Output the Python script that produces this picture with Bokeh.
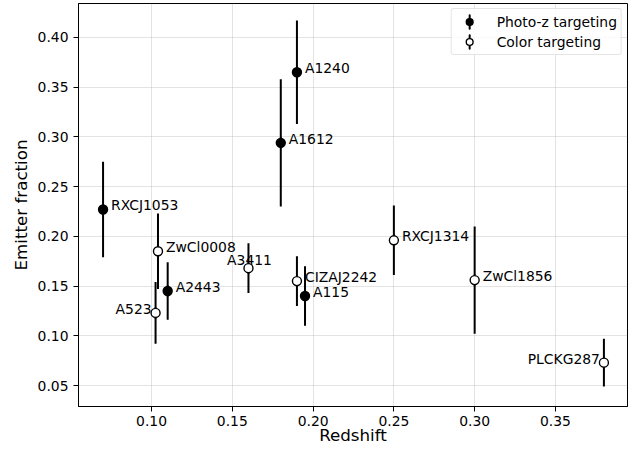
import numpy as np
from bokeh.plotting import figure
from bokeh.models import ColumnDataSource, Legend, LegendItem, Range1d
from bokeh.core.properties import value
from bokeh.embed import file_html
from bokeh.resources import INLINE

# ---- data ----
photo_names = ["RXCJ1053", "A1240", "A1612", "A2443", "A115"]
photo_z = [0.07, 0.19, 0.18, 0.11, 0.195]
photo_frac = [0.227, 0.365, 0.294, 0.145, 0.140]
photo_err = [0.048, 0.052, 0.064, 0.029, 0.030]

color_names = ["ZwCl0008", "A523", "A3411", "CIZAJ2242", "RXCJ1314", "ZwCl1856", "PLCKG287"]
color_z = [0.104, 0.1025, 0.16, 0.19, 0.25, 0.30, 0.38]
color_frac = [0.185, 0.123, 0.168, 0.155, 0.196, 0.156, 0.073]
color_err = [0.038, 0.031, 0.025, 0.025, 0.035, 0.054, 0.024]

x_ticks = [0.10, 0.15, 0.20, 0.25, 0.30, 0.35]
y_ticks = [0.05, 0.10, 0.15, 0.20, 0.25, 0.30, 0.35, 0.40]

# label placement (style): names drawn to the left, names drawn above
left_labels = ["A523", "PLCKG287"]
above_labels = ["A3411"]

FONT = "DejaVu Sans"

p = figure(width=629, height=447, output_backend="svg", toolbar_location=None,
           x_range=Range1d(0.0548, 0.3946), y_range=Range1d(0.0289, 0.4341),
           min_border_left=78, min_border_right=2, min_border_top=3, min_border_bottom=40)

p.background_fill_color = "white"
p.border_fill_color = "white"
p.outline_line_color = "black"
p.outline_line_width = 1

for ax in (p.xaxis, p.yaxis):
    ax.axis_line_color = "black"
    ax.axis_line_width = 1
    ax.major_tick_line_color = "black"
    ax.major_tick_out = 5
    ax.major_tick_in = 0
    ax.minor_tick_line_color = None
    ax.major_label_text_font = FONT
    ax.major_label_text_font_size = "13.9px"
    ax.major_label_text_color = "black"
    ax.axis_label_text_font = FONT
    ax.axis_label_text_font_size = "16.7px"
    ax.axis_label_text_font_style = "normal"
    ax.axis_label_text_color = "black"

p.xaxis.ticker = x_ticks
p.yaxis.ticker = y_ticks
p.xaxis.major_label_overrides = {t: f"{t:.2f}" for t in x_ticks}
p.yaxis.major_label_overrides = {t: f"{t:.2f}" for t in y_ticks}
p.xaxis.axis_label = "Redshift"
p.yaxis.axis_label = "Emitter fraction"
p.xaxis.major_label_standoff = 4
p.xaxis.axis_label_standoff = -4
p.yaxis.major_label_standoff = 5
p.yaxis.axis_label_standoff = 4

p.grid.grid_line_color = "#b0b0b0"
p.grid.grid_line_alpha = 0.45
p.grid.grid_line_width = 0.8


def make_src(names, z, frac, err):
    z = np.array(z); frac = np.array(frac); err = np.array(err)
    return ColumnDataSource(dict(name=names, z=z, frac=frac,
                                 lo=frac - err, hi=frac + err))


src_p = make_src(photo_names, photo_z, photo_frac, photo_err)
src_c = make_src(color_names, color_z, color_frac, color_err)

# labels (drawn first, beneath the markers and bars)
all_names = photo_names + color_names
all_z = photo_z + color_z
all_frac = photo_frac + color_frac


def label_group(sel):
    idx = [i for i, n in enumerate(all_names) if sel(n)]
    return ColumnDataSource(dict(x=[all_z[i] for i in idx], y=[all_frac[i] for i in idx],
                                 t=[all_names[i] for i in idx]))


common = dict(text="t", text_font=value(FONT), text_font_size="13.9px",
              text_color="black", text_baseline="alphabetic")
p.text("x", "y", source=label_group(lambda n: n not in left_labels and n not in above_labels),
       x_offset=8, y_offset=-4, text_align="left", **common)
p.text("x", "y", source=label_group(lambda n: n in left_labels),
       x_offset=-4, y_offset=-4, text_align="right", **common)
p.text("x", "y", source=label_group(lambda n: n in above_labels),
       x_offset=1, y_offset=-8, text_align="center", **common)


def series(src, fill, lw):
    p.segment(x0="z", y0="lo", x1="z", y1="hi", source=src, line_color="black", line_width=2)
    # thin vertical stroke hidden under the error bar; gives the legend its bar
    bar = p.ellipse(x="z", y="frac", width=0.01, height=10, width_units="screen",
                    height_units="screen", source=src, fill_color=None,
                    line_color="black", line_width=2)
    pts = p.scatter("z", "frac", source=src, size=9, fill_color=fill,
                    line_color="black", line_width=lw)
    return bar, pts


bar_p, pts_p = series(src_p, "black", 1.4)
bar_c, pts_c = series(src_c, "white", 1.4)

legend = Legend(items=[LegendItem(label="Photo-z targeting", renderers=[bar_p, pts_p]),
                       LegendItem(label="Color targeting", renderers=[bar_c, pts_c])],
                location="top_right")
legend.margin = 5
legend.padding = 4
legend.glyph_width = 27
legend.glyph_height = 17
legend.label_height = 17
legend.spacing = 3
legend.label_standoff = 14
legend.label_text_font = FONT
legend.label_text_font_size = "13.9px"
legend.label_text_color = "black"
legend.border_line_color = "#cccccc"
legend.border_line_width = 1
legend.background_fill_color = "white"
legend.background_fill_alpha = 0.8
try:
    legend.border_radius = 3
except Exception:
    pass
p.add_layout(legend)

open("out.html", "w").write(file_html(p, INLINE))
